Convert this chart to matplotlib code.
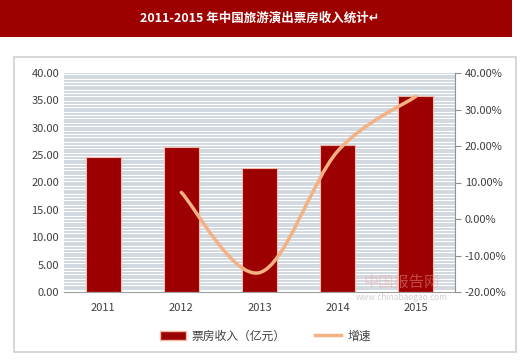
import matplotlib
matplotlib.use("Agg")
import matplotlib.pyplot as plt
from matplotlib.path import Path
from matplotlib.patches import PathPatch, Rectangle
from matplotlib.lines import Line2D
import numpy as np

plt.rcParams['font.family'] = ['Noto Sans CJK SC', 'DejaVu Sans']

years = ['2011', '2012', '2013', '2014', '2015']
revenue = [24.7, 26.5, 22.6, 26.8, 35.8]          # 票房收入（亿元）
growth = [None, 7.3, -14.7, 18.6, 33.6]           # 增速 %
left_ticks = np.arange(0, 41, 5)
right_ticks = np.arange(-20, 41, 10)

bar_color = '#9c0000'
line_color = '#f4b183'
text_color = '#404040'

fig = plt.figure(figsize=(5.2, 3.6), dpi=100)

# title banner
fig.patches.append(Rectangle((0.0, 1 - 37 / 360), 0.985, 37 / 360, transform=fig.transFigure,
                             facecolor='#9e0000', edgecolor='none', zorder=-2))
fig.text(0.5, 1 - 18 / 360, '2011-2015 年中国旅游演出票房收入统计↵', color='white',
         fontsize=9, fontweight='bold', ha='center', va='center')

# outer chart box
fig.patches.append(Rectangle((14 / 520, 1 - 352 / 360), 502 / 520, 295 / 360,
                             transform=fig.transFigure, facecolor='white',
                             edgecolor='#d0d0d0', lw=1.2, zorder=-2))

ax = fig.add_axes([64 / 520, 1 - 292 / 360, 391 / 520, 219 / 360])
ax.patch.set_alpha(0)
x = np.arange(len(years))
ax.set_xlim(-0.5, len(years) - 0.5)
ax.set_ylim(0, 40)

# dense horizontal stripes
for yv in np.arange(0.5, 40.01, 0.5):
    ax.axhline(yv, color='#c5ced8', lw=1.1, zorder=0)

ax.bar(x, revenue, width=0.45, color=bar_color, edgecolor='#f2b8a8', lw=0.8, zorder=2)

ax.set_yticks(left_ticks)
ax.set_yticklabels(['%.2f' % v for v in left_ticks])
ax.set_xticks(x)
ax.set_xticklabels(years)
ax.tick_params(axis='both', length=0, colors=text_color, labelsize=8)
ax.tick_params(axis='x', pad=8)
for s in ['top', 'left', 'right']:
    ax.spines[s].set_visible(False)
ax.spines['bottom'].set_color('#a0a0a0')

ax2 = ax.twinx()
ax2.set_ylim(-20, 40)
ax2.set_yticks(right_ticks)
ax2.set_yticklabels(['%.2f%%' % v for v in right_ticks])
ax2.tick_params(axis='y', length=4, color='#909090', colors=text_color, labelsize=8, pad=3)
for s in ['top', 'left', 'bottom']:
    ax2.spines[s].set_visible(False)
ax2.spines['right'].set_color('#909090')

# smoothed growth line (Catmull-Rom bezier through the data points)
pts = [(xi, g) for xi, g in zip(x, growth) if g is not None]
pts = np.array(pts, dtype=float)
verts = [tuple(pts[0])]
codes = [Path.MOVETO]
n = len(pts)
for i in range(n - 1):
    p0 = pts[i - 1] if i > 0 else pts[i]
    p1, p2 = pts[i], pts[i + 1]
    p3 = pts[i + 2] if i + 2 < n else pts[i + 1]
    c1 = p1 + (p2 - p0) / 6
    c2 = p2 - (p3 - p1) / 6
    verts += [tuple(c1), tuple(c2), tuple(p2)]
    codes += [Path.CURVE4] * 3
ax2.add_patch(PathPatch(Path(verts, codes), facecolor='none', edgecolor=line_color,
                        lw=2.5, capstyle='round', zorder=3))

# watermark
fig.text(402 / 520, 1 - 282 / 360, '中国报告网', color='#f2a0a0', alpha=0.45, fontsize=11,
         ha='center', va='center')
fig.text(402 / 520, 1 - 298 / 360, 'www.chinabaogao.com', color='#b0b0b0', alpha=0.6,
         fontsize=6, ha='center', va='center')

handles = [Rectangle((0, 0), 1, 1, facecolor=bar_color, edgecolor='#f2b8a8'),
           Line2D([0], [0], color=line_color, lw=2.5)]
fig.legend(handles, ['票房收入（亿元）', '增速'], loc='center', ncol=2,
           bbox_to_anchor=(0.51, 1 - 336 / 360), frameon=False, fontsize=8.5,
           handlelength=2.2, columnspacing=2.5, handletextpad=0.5, labelcolor=text_color)

fig.savefig('out.png', dpi=100)
